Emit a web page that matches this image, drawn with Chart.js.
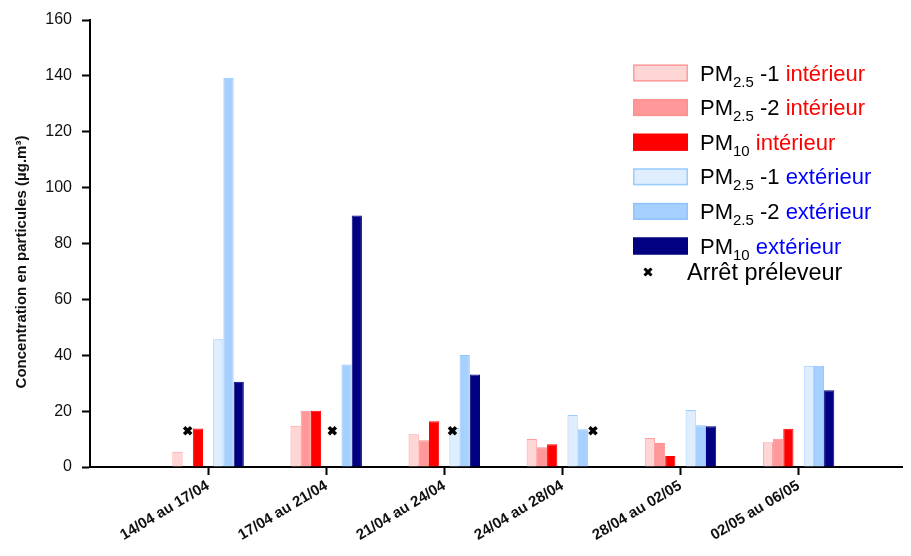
<!DOCTYPE html>
<html>
<head>
<meta charset="utf-8">
<script src="https://cdn.jsdelivr.net/npm/chart.js@4"></script>
<style>
  body { margin: 0; background: #fff; }
</style>
</head>
<body>
<canvas id="pmChart" width="911" height="556"></canvas>
<script>
// sampling periods
const categories = ['14/04 au 17/04', '17/04 au 21/04', '21/04 au 24/04', '24/04 au 28/04', '28/04 au 02/05', '02/05 au 06/05'];

// concentrations (µg/m3), null = no measurement
const pm25_1_int = [5.5, 14.8, 11.7, 10.0, 10.4, 8.9];
const pm25_2_int = [null, 20.1, 9.6, 7.1, 8.6, 10.1];
const pm10_int = [13.8, 20.1, 16.4, 8.1, 3.9, 13.7];
const pm25_1_ext = [45.7, null, 14.0, 18.6, 20.4, 36.2];
const pm25_2_ext = [139.3, 36.7, 40.1, 13.5, 14.9, 36.2];
const pm10_ext = [30.5, 90.0, 33.1, null, 14.6, 27.5];

// sampler stops: period index, bar slot of the stopped sampler, level
const stopPeriod = [0, 1, 2, 3];
const stopSlot = [1, 3.6, 3.8, 6];
const stopLevel = [13, 13, 13, 13];

const yTicks = [0, 20, 40, 60, 80, 100, 120, 140, 160];
const yTitle = 'Concentration en particules (µg.m³)';

const FONT = "'Liberation Sans', Arial, sans-serif";
const catPct = 0.605;
const nSlots = 7;

const series = [
  { data: pm25_1_int, fill: '#ffd6d6', border: '#ff9c9c', sub: '2.5', num: ' -1 ', place: 'intérieur', placeColor: '#ff0000' },
  { data: pm25_2_int, fill: '#ff9999', border: '#ff9090', sub: '2.5', num: ' -2 ', place: 'intérieur', placeColor: '#ff0000' },
  { data: pm10_int, fill: '#ff0000', border: '#ff0000', sub: '10', num: ' ', place: 'intérieur', placeColor: '#ff0000' },
  null, // empty slot between indoor and outdoor bars
  { data: pm25_1_ext, fill: '#deeeff', border: '#99ccff', sub: '2.5', num: ' -1 ', place: 'extérieur', placeColor: '#0000ff' },
  { data: pm25_2_ext, fill: '#a6d0ff', border: '#8ec4ff', sub: '2.5', num: ' -2 ', place: 'extérieur', placeColor: '#0000ff' },
  { data: pm10_ext, fill: '#000080', border: '#000080', sub: '10', num: ' ', place: 'extérieur', placeColor: '#0000ff' }
];

const barSets = series.map(s => ({
  type: 'bar',
  order: 1,
  data: s ? s.data.map((v, i) => ({ x: i + 1, y: v })) : categories.map((c, i) => ({ x: i + 1, y: null })),
  backgroundColor: s ? s.fill : 'rgba(0,0,0,0)',
  borderColor: s ? s.border : 'rgba(0,0,0,0)',
  borderWidth: 1,
  barPercentage: 1,
  categoryPercentage: catPct
}));

const stopSet = {
  type: 'scatter',
  order: 0,
  data: stopPeriod.map((p, i) => ({ x: p + 1 + (stopSlot[i] - 3) * catPct / nSlots, y: stopLevel[i] })),
  pointStyle: 'crossRot',
  pointRadius: 5,
  pointBorderWidth: 3.5,
  borderColor: '#000',
  backgroundColor: '#000'
};

// legend with subscripts and coloured words, plus the y title
const pmLegend = {
  id: 'pmLegend',
  afterDraw(chart) {
    const ctx = chart.ctx;
    const x0 = 633, y0 = 73, gap = 34.6;
    ctx.save();
    ctx.textBaseline = 'alphabetic';
    series.filter(s => s).forEach((s, k) => {
      const cy = y0 + k * gap;
      ctx.fillStyle = s.fill;
      ctx.fillRect(x0, cy - 8.5, 55, 17);
      ctx.strokeStyle = s.border;
      ctx.lineWidth = 1.5;
      ctx.strokeRect(x0 + 0.75, cy - 7.75, 53.5, 15.5);
      let tx = 700;
      const base = cy + 7.5;
      ctx.fillStyle = '#000';
      ctx.font = '22px ' + FONT;
      ctx.fillText('PM', tx, base);
      tx += ctx.measureText('PM').width;
      ctx.font = '15px ' + FONT;
      ctx.fillText(s.sub, tx, base + 6);
      tx += ctx.measureText(s.sub).width;
      ctx.font = '22px ' + FONT;
      ctx.fillText(s.num, tx, base);
      tx += ctx.measureText(s.num).width;
      ctx.fillStyle = s.placeColor;
      ctx.fillText(s.place, tx, base);
    });
    // sampler stop entry
    const my = 272;
    ctx.strokeStyle = '#000';
    ctx.lineWidth = 3;
    ctx.beginPath();
    ctx.moveTo(644.5, my - 3.5); ctx.lineTo(651.5, my + 3.5);
    ctx.moveTo(651.5, my - 3.5); ctx.lineTo(644.5, my + 3.5);
    ctx.stroke();
    ctx.fillStyle = '#000';
    ctx.font = '23.5px ' + FONT;
    ctx.fillText('Arrêt préleveur', 687, my + 8);
    // y axis title
    ctx.translate(22, 262);
    ctx.rotate(-Math.PI / 2);
    ctx.textAlign = 'center';
    ctx.textBaseline = 'middle';
    ctx.fillStyle = '#111';
    ctx.font = 'bold 15px ' + FONT;
    ctx.fillText(yTitle, 0, 0);
    ctx.restore();
  }
};

new Chart(document.getElementById('pmChart'), {
  type: 'bar',
  data: { datasets: [...barSets, stopSet] },
  options: {
    responsive: false,
    animation: false,
    devicePixelRatio: 1,
    layout: { padding: { left: 0, right: 2, top: 20, bottom: 0 } },
    plugins: { legend: { display: false }, tooltip: { enabled: false } },
    scales: {
      x: {
        type: 'linear',
        offset: false,
        min: 0,
        max: 6.88,
        afterBuildTicks: s => { s.ticks = categories.map((c, i) => ({ value: i + 1 })); },
        afterFit: s => { s.height = 89; },
        ticks: {
          callback: v => categories[v - 1] || '',
          minRotation: 31,
          maxRotation: 31,
          autoSkip: false,
          padding: 2,
          color: '#111',
          font: { family: FONT, size: 15, weight: 'bold' }
        },
        grid: { offset: false, drawOnChartArea: false, drawTicks: true, tickLength: 8, tickWidth: 2, color: '#000' },
        border: { display: true, color: '#000', width: 2 }
      },
      y: {
        min: 0,
        max: 160,
        afterBuildTicks: s => { s.ticks = yTicks.map(v => ({ value: v })); },
        afterFit: s => { s.width = 90; },
        ticks: {
          padding: 10,
          color: '#111',
          font: { family: FONT, size: 16 }
        },
        grid: { drawOnChartArea: false, drawTicks: true, tickLength: 8, tickWidth: 2, color: '#000' },
        border: { display: true, color: '#000', width: 2 }
      }
    }
  },
  plugins: [pmLegend]
});
</script>
</body>
</html>
